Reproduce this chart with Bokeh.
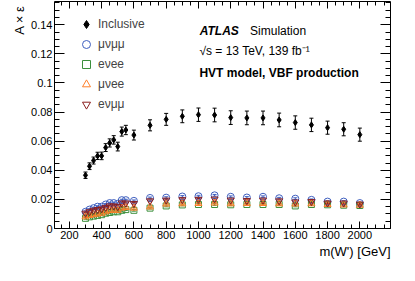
import math
from bokeh.plotting import figure
from bokeh.models import (ColumnDataSource, FixedTicker, LinearAxis, Range1d, Label,
                          Legend, LegendItem, Whisker, TeeHead, Title)
from bokeh.embed import file_html
from bokeh.resources import INLINE

# ---------------- data ----------------
masses = [300, 325, 350, 375, 400, 425, 450, 475, 500, 525, 550, 600, 700, 800, 900,
          1000, 1100, 1200, 1300, 1400, 1500, 1600, 1700, 1800, 1900, 2000]

inclusive = [0.0366, 0.0428, 0.0467, 0.0499, 0.0499, 0.0556, 0.0588, 0.0609, 0.0563, 0.0666,
             0.0677, 0.0642, 0.0709, 0.0750, 0.0771, 0.0782, 0.0780, 0.0762, 0.0760, 0.0760,
             0.0746, 0.0728, 0.0712, 0.0693, 0.0682, 0.0645]
inclusive_err = [0.0022, 0.0023, 0.0024, 0.0025, 0.0026, 0.0027, 0.0028, 0.0029, 0.0030, 0.0031,
                 0.0032, 0.0034, 0.0038, 0.0041, 0.0044, 0.0046, 0.0047, 0.0047, 0.0047, 0.0047,
                 0.0047, 0.0046, 0.0046, 0.0045, 0.0045, 0.0045]

mvmm = [0.0115, 0.0130, 0.0140, 0.0150, 0.0150, 0.0165, 0.0175, 0.0175, 0.0170, 0.0195,
        0.0195, 0.0190, 0.0210, 0.0212, 0.0220, 0.0222, 0.0228, 0.0218, 0.0213, 0.0218,
        0.0208, 0.0205, 0.0197, 0.0185, 0.0185, 0.0175]
evee = [0.0070, 0.0080, 0.0085, 0.0090, 0.0095, 0.0105, 0.0110, 0.0115, 0.0115, 0.0125,
        0.0130, 0.0125, 0.0140, 0.0155, 0.0162, 0.0165, 0.0165, 0.0163, 0.0165, 0.0165,
        0.0165, 0.0155, 0.0165, 0.0163, 0.0160, 0.0158]
mvee = [0.0080, 0.0090, 0.0095, 0.0100, 0.0105, 0.0115, 0.0125, 0.0125, 0.0125, 0.0140,
        0.0145, 0.0140, 0.0148, 0.0168, 0.0170, 0.0172, 0.0175, 0.0170, 0.0172, 0.0172,
        0.0170, 0.0168, 0.0170, 0.0165, 0.0162, 0.0160]
evmm = [0.0105, 0.0115, 0.0125, 0.0130, 0.0135, 0.0145, 0.0155, 0.0155, 0.0150, 0.0175,
        0.0175, 0.0172, 0.0190, 0.0195, 0.0198, 0.0200, 0.0202, 0.0195, 0.0192, 0.0195,
        0.0190, 0.0182, 0.0185, 0.0175, 0.0175, 0.0168]
channel_err = [0.0006, 0.0006, 0.0006, 0.0006, 0.0006, 0.0006, 0.0006, 0.0006, 0.0006, 0.0006,
               0.0006, 0.0006, 0.0006, 0.0006, 0.0006, 0.0006, 0.0006, 0.0006, 0.0006, 0.0006,
               0.0006, 0.0006, 0.0006, 0.0006, 0.0006, 0.0006]

x_major = [200, 400, 600, 800, 1000, 1200, 1400, 1600, 1800, 2000]
x_minor = list(range(150, 2200, 50))
y_major = [0, 0.02, 0.04, 0.06, 0.08, 0.1, 0.12, 0.14]
y_labels = ["0", "0.02", "0.04", "0.06", "0.08", "0.1", "0.12", "0.14"]
y_minor = [round(0.005 * i, 3) for i in range(0, 32)]

x_title = "m(W') [GeV]"
y_title = "A × ε"

FONT = "Liberation Sans"

# ---------------- figure ----------------
p = figure(width=399, height=265, output_backend="svg", toolbar_location=None,
           x_range=Range1d(108, 2190), y_range=Range1d(0, 0.156),
           min_border_left=54, min_border_right=9, min_border_top=1, min_border_bottom=37)
p.grid.grid_line_color = None
p.outline_line_color = "black"
p.outline_line_width = 1
p.background_fill_color = "white"
p.border_fill_color = "white"


def style_axis(ax, major, minor, tin, tmin, show_labels):
    ax.ticker = FixedTicker(ticks=major, minor_ticks=minor)
    ax.axis_line_color = None
    ax.major_tick_in = tin
    ax.major_tick_out = 0
    ax.minor_tick_in = tmin
    ax.minor_tick_out = 0
    ax.major_tick_line_color = "black"
    ax.minor_tick_line_color = "black"
    ax.major_label_text_font = FONT
    if show_labels:
        ax.major_label_text_font_size = "11px"
        ax.major_label_text_color = "black"
        ax.major_label_standoff = 2
    else:
        ax.major_label_text_font_size = "1px"
        ax.major_label_text_color = None
        ax.major_label_standoff = 0


style_axis(p.xaxis[0], x_major, x_minor, 7, 4, True)
style_axis(p.yaxis[0], y_major, y_minor, 10, 5, True)
p.yaxis[0].major_label_overrides = {v: s for v, s in zip(y_major, y_labels)}

top_ax = LinearAxis()
style_axis(top_ax, x_major, x_minor, 7, 4, False)
p.add_layout(top_ax, "above")
right_ax = LinearAxis()
style_axis(right_ax, y_major, y_minor, 10, 5, False)
p.add_layout(right_ax, "right")

# axis titles at the axis ends
xt = Title(text=x_title, align="right", text_font=FONT, text_font_size="13px",
           text_font_style="normal", text_color="black", standoff=0, offset=0)
p.add_layout(xt, "below")
yt = Title(text=y_title, align="right", vertical_align="middle", text_font=FONT,
           text_font_size="13px", text_font_style="normal", text_color="black",
           standoff=2, offset=4)
p.add_layout(yt, "left")

# ---------------- series ----------------
def add_series(vals, errs, color, marker, size, filled):
    src = ColumnDataSource(dict(x=masses, y=vals,
                                lo=[v - e for v, e in zip(vals, errs)],
                                up=[v + e for v, e in zip(vals, errs)]))
    w = Whisker(source=src, base="x", lower="lo", upper="up", line_color=color, line_width=1,
                upper_head=TeeHead(size=4, line_color=color, line_width=1),
                lower_head=TeeHead(size=4, line_color=color, line_width=1))
    p.add_layout(w)
    r = p.scatter("x", "y", source=src, marker=marker, size=size,
                  line_color=color, line_width=1,
                  fill_color=color if filled else None)
    return r


r_inc = add_series(inclusive, inclusive_err, "black", "diamond", 6, True)
r_mvmm = add_series(mvmm, channel_err, "#3f5fbf", "circle", 7, False)
r_evee = add_series(evee, channel_err, "#3c8f3c", "square", 6, False)
r_mvee = add_series(mvee, channel_err, "#ff7f2a", "triangle", 7, False)
r_evmm = add_series(evmm, channel_err, "#8b1e1e", "inverted_triangle", 7, False)

legend = Legend(items=[LegendItem(label="Inclusive", renderers=[r_inc]),
                       LegendItem(label="μνμμ", renderers=[r_mvmm]),
                       LegendItem(label="eνee", renderers=[r_evee]),
                       LegendItem(label="μνee", renderers=[r_mvee]),
                       LegendItem(label="eνμμ", renderers=[r_evmm])],
                location=(22, 114), glyph_width=20, glyph_height=20, label_height=20,
                spacing=0, padding=0, margin=0, border_line_color=None,
                background_fill_alpha=0, label_text_font=FONT, label_text_font_size="12px",
                label_standoff=2)
p.add_layout(legend)

# ---------------- texts ----------------
def lab(x, y, text, size="12px", style="normal", align="left"):
    p.add_layout(Label(x=x, y=y, text=text, text_font=FONT, text_font_size=size,
                       text_font_style=style, text_align=align, text_baseline="middle",
                       text_color="black"))


lab(1008, 0.1359, "ATLAS", style="bold italic")
lab(1320, 0.1359, "Simulation")
lab(1006, 0.1218, "√s = 13 TeV, 139 fb⁻¹")
lab(1006, 0.1069, "HVT model, VBF production", style="bold")

open("out.html", "w").write(file_html(p, INLINE))
